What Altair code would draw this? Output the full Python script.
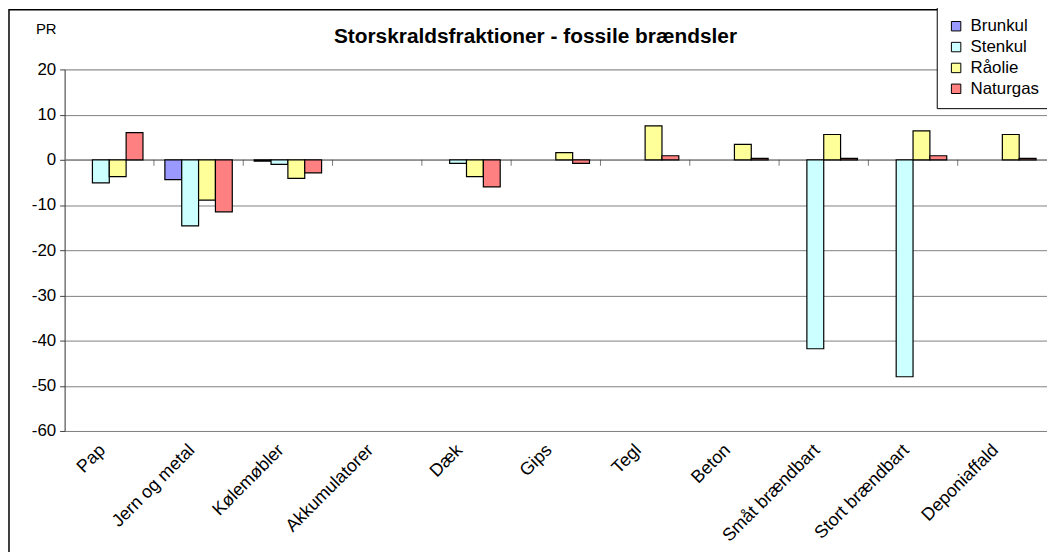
import altair as alt
import pandas as pd

categories = ["Pap", "Jern og metal", "Kølemøbler", "Akkumulatorer", "Dæk", "Gips",
              "Tegl", "Beton", "Småt brændbart", "Stort brændbart", "Deponiaffald"]
series = ["Brunkul", "Stenkul", "Råolie", "Naturgas"]
brunkul = [0, -4.4, -0.3, 0, 0, 0, 0, 0, 0, 0, 0]
stenkul = [-5.1, -14.6, -1.0, 0, -0.8, 0, 0, 0, -41.8, -48.0, 0]
raolie = [-3.7, -8.9, -4.1, 0, -3.7, 1.6, 7.5, 3.4, 5.6, 6.4, 5.6]
naturgas = [6.0, -11.5, -2.9, 0, -6.0, -0.8, 0.9, 0.3, 0.3, 0.9, 0.3]
colors = ["#9999FF", "#CCFFFF", "#FFFF99", "#FF8080"]
y_ticks = [-60, -50, -40, -30, -20, -10, 0, 10, 20]
title_text = "Storskraldsfraktioner - fossile brændsler"

rows = []
for s, vals in zip(series, [brunkul, stenkul, raolie, naturgas]):
    for c, v in zip(categories, vals):
        rows.append({"kategori": c, "serie": s, "PR": v})
df = pd.DataFrame(rows)
cat_df = pd.DataFrame({"kategori": categories[1:]})
title_df = pd.DataFrame({"t": [title_text]})

FONT = "Liberation Sans"

xscale = alt.Scale(domain=categories, paddingInner=0, paddingOuter=0)
x_axis = alt.Axis(title=None, labelAngle=-45, labelFontSize=18, labelFont=FONT,
                  labelColor="black", ticks=False, domain=False, labelPadding=10,
                  labelOffset=-13, grid=False, orient="bottom")

bars = alt.Chart(df).transform_filter("datum.PR != 0").mark_bar(
    stroke="black", strokeWidth=1.2
).encode(
    x=alt.X("kategori:N", scale=xscale, sort=categories, axis=x_axis),
    xOffset=alt.XOffset("serie:N", sort=series,
                        scale=alt.Scale(domain=series, paddingInner=0, paddingOuter=0.65)),
    y=alt.Y("PR:Q", scale=alt.Scale(domain=[-60, 20], nice=False),
            axis=alt.Axis(values=y_ticks, labelExpr="'' + datum.value",
                          title="PR", titleAngle=0, titleX=-19, titleY=-41,
                          titleAlign="center", titleBaseline="middle", titleFontSize=15,
                          titleFont=FONT, titleFontWeight="normal", titleColor="black",
                          labelFontSize=17, labelFont=FONT, labelColor="black",
                          grid=True, gridColor="#808080", gridWidth=1,
                          domainColor="#404040", tickColor="#404040", tickSize=5, labelPadding=4)),
    color=alt.Color("serie:N", sort=series, scale=alt.Scale(domain=series, range=colors),
                    legend=alt.Legend(title=None, orient="none", legendX=878, legendY=-63,
                                      fillColor="white", strokeColor="black", padding=11,
                                      labelFontSize=17, labelFont=FONT, labelColor="black",
                                      symbolType="square", symbolSize=90, symbolStrokeColor="black",
                                      symbolStrokeWidth=1, rowPadding=3, labelOffset=6)),
)

# category boundary tick marks hanging below the zero line
ticks = alt.Chart(cat_df).mark_tick(color="#404040", thickness=1, size=6,
                                    orient="vertical", yOffset=3).encode(
    x=alt.X("kategori:N", scale=xscale, sort=categories, bandPosition=0, axis=x_axis),
    y=alt.datum(0),
)

zero_line = alt.Chart(title_df).mark_rule(color="#808080", strokeWidth=1).encode(
    y=alt.datum(0)
)

title = alt.Chart(title_df).mark_text(font=FONT, fontSize=21, fontWeight="bold",
                                      color="black", align="center", baseline="middle").encode(
    text="t:N", x=alt.value(474), y=alt.value(-33)
)

border = alt.Chart(title_df).mark_rect(fill=None, stroke="black", strokeWidth=1.5, clip=False).encode(
    x=alt.value(-56), y=alt.value(-60), x2=alt.value(1100), y2=alt.value(700)
)

chart = alt.layer(border, zero_line, ticks, bars, title).properties(
    width=989, height=364,
    autosize=alt.AutoSizeParams(type="none"),
    padding={"left": 57, "top": 60, "right": 0, "bottom": 120},
).configure_view(stroke="#808080", strokeWidth=1).configure(background="white")

chart.save("out.html", embed_options={"renderer": "svg", "actions": False})
